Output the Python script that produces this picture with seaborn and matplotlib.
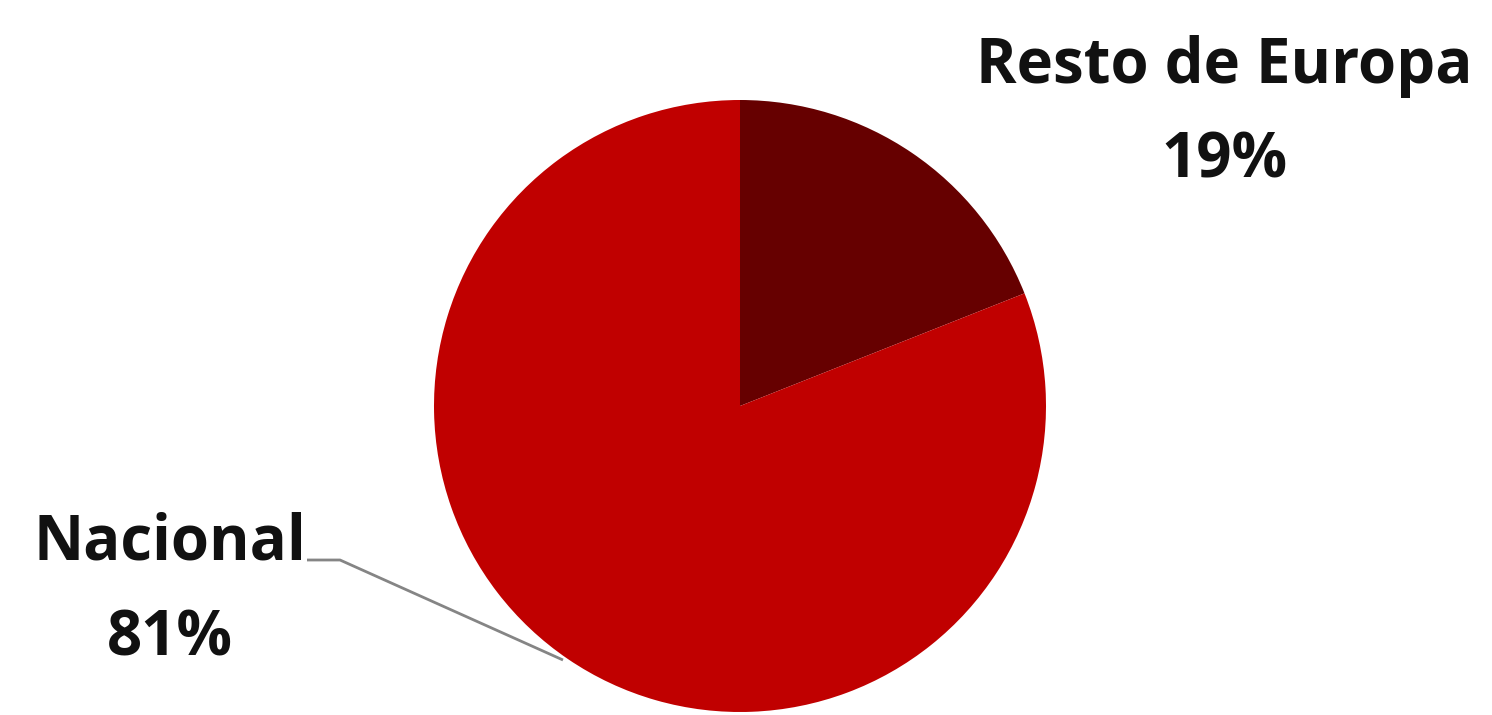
import matplotlib
matplotlib.use("Agg")
import matplotlib.pyplot as plt
import seaborn as sns

# Share of sales by market
categories = ["Resto de Europa", "Nacional"]
shares = [19, 81]
slice_colors = ["#660000", "#C00000"]

sns.set_theme(style="white")
plt.rcParams["font.family"] = ["Open Sans", "DejaVu Sans"]

W, H = 1492, 715
fig = plt.figure(figsize=(W / 100, H / 100), dpi=100)
ax = fig.add_axes([0, 0, 1, 1])

cx, cy, r = 740, H - 406, 306
ax.pie(shares, colors=slice_colors, startangle=90, counterclock=False,
       center=(cx, cy), radius=r, wedgeprops=dict(linewidth=0))

ax.set_xlim(0, W)
ax.set_ylim(0, H)
ax.set_aspect("equal")
ax.axis("off")

font = dict(fontsize=44.5, fontweight="bold", color="#111111", ha="center", va="baseline")

# Resto de Europa label
ax.text(1224, H - 83, categories[0], **font)
ax.text(1224, H - 177, f"{shares[0]}%", **font)

# Nacional label with leader line
ax.text(170, H - 560, categories[1], **font)
ax.text(170, H - 655, f"{shares[1]}%", **font)
ax.plot([307, 340, 563], [H - 560, H - 560, H - 660], color="#858585", lw=2,
        solid_capstyle="butt")

fig.savefig("out.png", dpi=100, facecolor="white")
